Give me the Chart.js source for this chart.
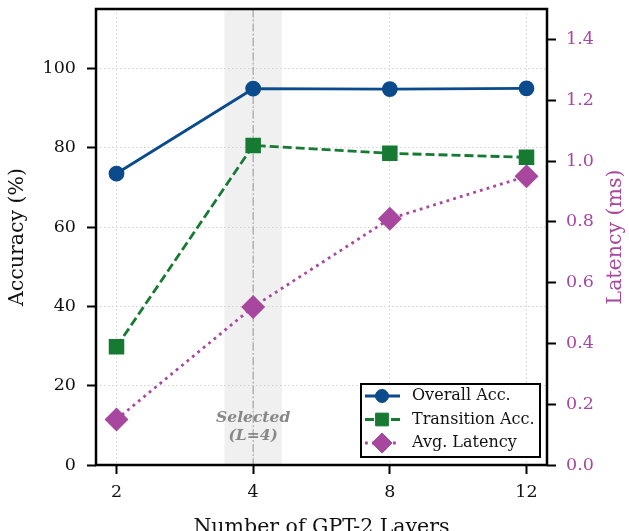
<!DOCTYPE html>
<html lang="en">
<head>
<meta charset="UTF-8">
<title>GPT-2 layers: accuracy vs latency</title>
<script src="https://cdn.jsdelivr.net/npm/chart.js"></script>
<style>
  html, body { margin: 0; padding: 0; background: #fff; }
  #wrap { width: 629px; height: 531px; }
</style>
</head>
<body>
<div id="wrap"><canvas id="grafica"></canvas></div>
<script>
// datos
const capas = ['2', '4', '8', '12'];
const overallAcc = [73.5, 94.9, 94.8, 95.0];
const transitionAcc = [29.8, 80.6, 78.6, 77.6];
const avgLatency = [0.15, 0.52, 0.81, 0.95];
const accTicks = [0, 20, 40, 60, 80, 100];
const latTicks = [0, 0.2, 0.4, 0.6, 0.8, 1.0, 1.2, 1.4];
const seleccion = 1; // L=4

const AZUL = '#0b4a8b';
const VERDE = '#177a33';
const MORADO = '#a8479e';
const SERIF = "'DejaVu Serif', serif";

const puntos = arr => arr.map((v, i) => ({ x: i, y: v }));

// banda gris + linea vertical de la capa elegida
const bandaPlugin = {
    id: 'banda',
    beforeDatasetsDraw(chart) {
        const { ctx, chartArea: a, scales } = chart;
        const x0 = scales.x.getPixelForValue(seleccion - 0.21);
        const x1 = scales.x.getPixelForValue(seleccion + 0.21);
        const xc = scales.x.getPixelForValue(seleccion);
        ctx.save();
        ctx.fillStyle = 'rgba(200,200,200,0.28)';
        ctx.fillRect(x0, a.top, x1 - x0, a.bottom - a.top);
        ctx.strokeStyle = 'rgba(150,150,150,0.75)';
        ctx.lineWidth = 1.3;
        ctx.setLineDash([8, 2.5, 1.5, 2.5]);
        ctx.beginPath();
        ctx.moveTo(xc, a.top);
        ctx.lineTo(xc, a.bottom);
        ctx.stroke();
        ctx.setLineDash([]);
        ctx.fillStyle = '#888';
        ctx.font = `italic bold 15.5px ${SERIF}`;
        ctx.textAlign = 'center';
        ctx.textBaseline = 'middle';
        ctx.fillText('Selected', xc, scales.y.getPixelForValue(11.8));
        ctx.fillText('(L=4)', xc, scales.y.getPixelForValue(7.4));
        ctx.restore();
    }
};

// marco, titulo derecho y leyenda
const marcoPlugin = {
    id: 'marco',
    afterDraw(chart) {
        const { ctx, chartArea: a } = chart;
        ctx.save();
        ctx.strokeStyle = '#000';
        ctx.lineWidth = 2.5;
        ctx.strokeRect(a.left, a.top, a.right - a.left, a.bottom - a.top);

        // titulo eje derecho (de abajo hacia arriba)
        ctx.translate(616, (a.top + a.bottom) / 2);
        ctx.rotate(-Math.PI / 2);
        ctx.fillStyle = MORADO;
        ctx.font = `20.5px ${SERIF}`;
        ctx.textAlign = 'center';
        ctx.textBaseline = 'middle';
        ctx.fillText('Latency (ms)', 0, 0);
        ctx.restore();

        // leyenda
        const w = 179, h = 73;
        const bx = a.right - 7 - w, by = a.bottom - 8 - h;
        ctx.save();
        ctx.fillStyle = 'rgba(255,255,255,0.9)';
        ctx.fillRect(bx, by, w, h);
        ctx.strokeStyle = '#000';
        ctx.lineWidth = 2;
        ctx.strokeRect(bx, by, w, h);
        chart.data.datasets.forEach((ds, i) => {
            const y = by + 12 + i * 23.5;
            ctx.strokeStyle = ds.borderColor;
            ctx.lineWidth = ds.borderWidth;
            ctx.setLineDash(ds.borderDash || []);
            ctx.beginPath();
            ctx.moveTo(bx + 4, y);
            ctx.lineTo(bx + 39, y);
            ctx.stroke();
            ctx.setLineDash([]);
            ctx.fillStyle = ds.backgroundColor;
            ctx.lineWidth = 1;
            Chart.helpers.drawPoint(ctx, {
                pointStyle: ds.pointStyle, radius: ds.pointRadius, rotation: 0, borderWidth: 1
            }, bx + 21, y);
            ctx.fillStyle = '#111';
            ctx.font = `16px ${SERIF}`;
            ctx.textAlign = 'left';
            ctx.textBaseline = 'middle';
            ctx.fillText(ds.label, bx + 51, y);
        });
        ctx.restore();
    }
};

const gridComun = {
    color: '#d2d2d2',
    lineWidth: 1,
    tickColor: '#000',
    tickWidth: 2,
    tickLength: 9,
    tickBorderDash: []
};

new Chart(document.getElementById('grafica'), {
    type: 'line',
    data: {
        datasets: [{
            label: 'Overall Acc.',
            data: puntos(overallAcc),
            yAxisID: 'y',
            borderColor: AZUL,
            backgroundColor: AZUL,
            borderWidth: 2.8,
            pointStyle: 'circle',
            pointRadius: 6.5,
            pointHoverRadius: 6.5
        }, {
            label: 'Transition Acc.',
            data: puntos(transitionAcc),
            yAxisID: 'y',
            borderColor: VERDE,
            backgroundColor: VERDE,
            borderWidth: 2.8,
            borderDash: [9, 4],
            pointStyle: 'rect',
            pointRadius: 9,
            pointHoverRadius: 9
        }, {
            label: 'Avg. Latency',
            data: puntos(avgLatency),
            yAxisID: 'y1',
            borderColor: MORADO,
            backgroundColor: MORADO,
            borderWidth: 2.8,
            borderDash: [2.8, 4.2],
            pointStyle: 'rectRot',
            pointRadius: 10,
            pointHoverRadius: 10
        }]
    },
    options: {
        responsive: true,
        maintainAspectRatio: false,
        animation: false,
        layout: { autoPadding: false, padding: { top: 9, left: 0, right: 0, bottom: 0 } },
        plugins: {
            legend: { display: false },
            tooltip: { enabled: false }
        },
        scales: {
            x: {
                type: 'linear',
                min: -0.15,
                max: 3.15,
                afterFit: s => { s.height = 66; s.paddingLeft = 0; s.paddingRight = 0; },
                afterBuildTicks: s => { s.ticks = capas.map((c, i) => ({ value: i })); },
                ticks: {
                    callback: v => capas[v],
                    color: '#111',
                    font: { family: SERIF, size: 17.5 },
                    padding: 8,
                    maxRotation: 0
                },
                grid: gridComun,
                border: { display: false, dash: [1.5, 2.5] },
                title: {
                    display: true,
                    text: 'Number of GPT-2 Layers',
                    color: '#111',
                    font: { family: SERIF, size: 20.5 },
                    padding: { top: 0, bottom: -9 }
                }
            },
            y: {
                position: 'left',
                min: 0,
                max: 115,
                afterFit: s => { s.width = 96; s.paddingTop = 0; s.paddingBottom = 0; },
                afterBuildTicks: s => { s.ticks = accTicks.map(v => ({ value: v })); },
                ticks: {
                    color: '#111',
                    font: { family: SERIF, size: 17.5 },
                    padding: 11
                },
                grid: gridComun,
                border: { display: false, dash: [1.5, 2.5] },
                title: {
                    display: true,
                    text: 'Accuracy (%)',
                    color: '#111',
                    font: { family: SERIF, size: 20.5 },
                    padding: 5
                }
            },
            y1: {
                position: 'right',
                min: 0,
                max: 1.5,
                afterFit: s => { s.width = 82; s.paddingTop = 0; s.paddingBottom = 0; },
                afterBuildTicks: s => { s.ticks = latTicks.map(v => ({ value: v })); },
                ticks: {
                    color: MORADO,
                    font: { family: SERIF, size: 17.5 },
                    padding: 10,
                    callback: v => v.toFixed(1)
                },
                grid: {
                    drawOnChartArea: false,
                    tickColor: '#000',
                    tickWidth: 2,
                    tickLength: 9
                },
                border: { display: false }
            }
        }
    },
    plugins: [bandaPlugin, marcoPlugin]
});
</script>
</body>
</html>
